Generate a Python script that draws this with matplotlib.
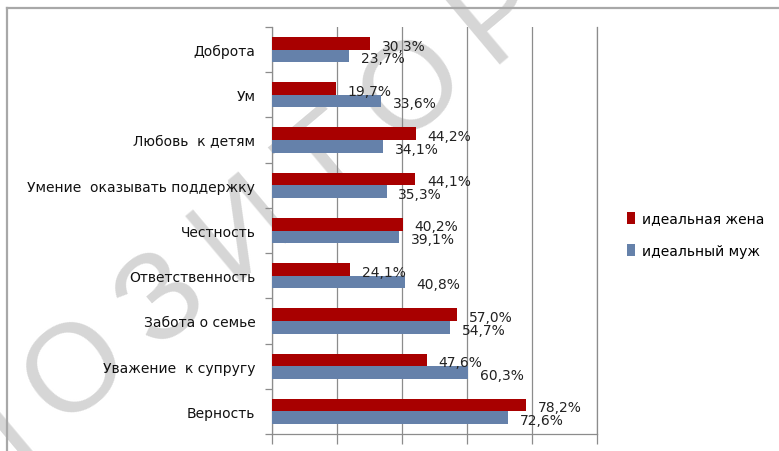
import matplotlib
matplotlib.use("Agg")
import matplotlib.pyplot as plt
import numpy as np
from matplotlib.patches import Patch
from matplotlib.lines import Line2D

# ── данные ─────────────────────────────────────────────
categories = ["Доброта", "Ум", "Любовь  к детям", "Умение  оказывать поддержку",
              "Честность", "Ответственность", "Забота о семье",
              "Уважение  к супругу", "Верность"]
wife = [30.3, 19.7, 44.2, 44.1, 40.2, 24.1, 57.0, 47.6, 78.2]
husband = [23.7, 33.6, 34.1, 35.3, 39.1, 40.8, 54.7, 60.3, 72.6]
series_names = ["идеальная жена", "идеальный муж"]
colors = ["#A80000", "#6581AA"]

plt.rcParams["font.family"] = ["DejaVu Sans"]
FS = 10

W, H = 779, 452
fig = plt.figure(figsize=(W / 100, H / 100), dpi=100)
fig.patch.set_facecolor("white")

# водяной знак (буквы с небольшой разрядкой)
fig.text(250 / W, 1 - 232 / H, "\u2009".join("РЕПОЗИТОРИЙ"), rotation=40,
         fontsize=90, color="#d6d6d6", ha="center", va="center",
         rotation_mode="anchor", family=["Liberation Sans", "DejaVu Sans"],
         zorder=-5)

# рамка
fig.add_artist(Line2D([7 / W, 7 / W], [0, 1 - 9 / H], color="#a8a8a8", lw=1.6))
fig.add_artist(Line2D([7 / W, 1], [1 - 9 / H, 1 - 9 / H], color="#a8a8a8", lw=1.6))

ax = fig.add_axes([272 / W, 1 - 435 / H, (597 - 272) / W, (435 - 28) / H])
ax.set_facecolor("none")

y = np.arange(len(categories))
h = 0.28
ax.barh(y - h / 2, wife, height=h, color=colors[0], zorder=3)
ax.barh(y + h / 2, husband, height=h, color=colors[1], zorder=3)

for yi, v in zip(y, wife):
    ax.text(v + 3.6, yi - h / 2 + 0.05, f"{v:.1f}%".replace(".", ","),
            fontsize=FS, va="center", ha="left", color="#222222", zorder=4)
for yi, v in zip(y, husband):
    ax.text(v + 3.6, yi + h / 2 + 0.05, f"{v:.1f}%".replace(".", ","),
            fontsize=FS, va="center", ha="left", color="#222222", zorder=4)

ax.set_xlim(0, 100)
ax.set_ylim(len(categories) - 0.5, -0.5)
ax.set_xticks([0, 20, 40, 60, 80, 100])
ax.set_xticklabels([])
ax.xaxis.grid(True, color="#8c8c8c", lw=0.9, zorder=1)
ax.set_axisbelow(True)

ax.set_yticks(np.arange(len(categories) + 1) - 0.5, minor=False)
ax.set_yticklabels([])
ax.set_yticks(y, minor=True)
ax.set_yticklabels(categories, minor=True, fontsize=FS, color="#111111")
ax.tick_params(axis="y", which="minor", length=0, pad=12)
ax.tick_params(axis="y", which="major", length=5, color="#8c8c8c", width=0.9)
ax.tick_params(axis="x", length=7, color="#8c8c8c", width=0.9)

ax.spines["top"].set_visible(False)
for s in ["left", "bottom", "right"]:
    ax.spines[s].set_color("#8c8c8c")
    ax.spines[s].set_linewidth(0.9)

handles = [Patch(facecolor=c, label=n) for c, n in zip(colors, series_names)]
fig.legend(handles=handles, loc="upper left", bbox_to_anchor=(614 / W, 1 - 200 / H),
           frameon=False, fontsize=FS, handlelength=0.6, handleheight=1.0,
           handletextpad=0.5, labelspacing=1.3)

fig.savefig("out.png", dpi=100, facecolor="white")
